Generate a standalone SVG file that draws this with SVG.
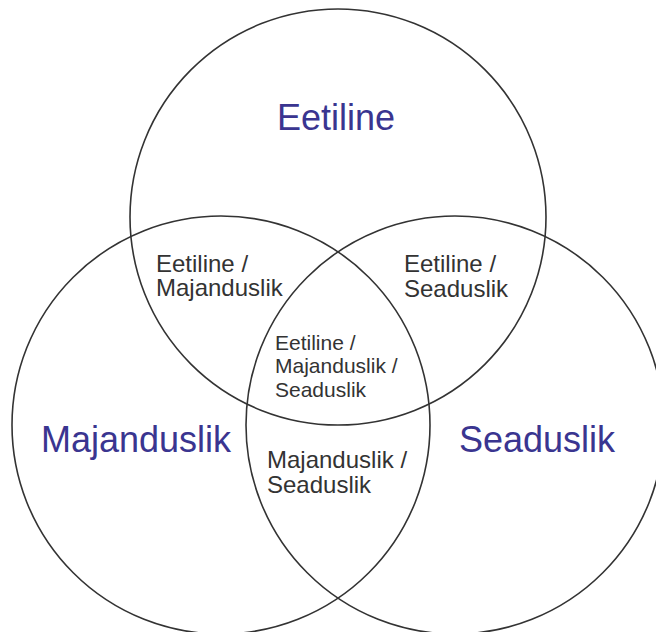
<svg xmlns="http://www.w3.org/2000/svg" width="656" height="632" viewBox="0 0 656 632">
<style>
.c{fill:none;stroke:#333;stroke-width:1.6}
.big{font-family:"Liberation Sans",Arial,sans-serif;font-size:36px;fill:#3a3590}
.sm{font-family:"Liberation Sans",Arial,sans-serif;font-size:24px;fill:#333}
.md{font-family:"Liberation Sans",Arial,sans-serif;font-size:21px;fill:#333}
</style>
<rect width="656" height="632" fill="#fff"/>
<g id="connectors"/>
<g id="eetiline"><circle class="c" cx="338" cy="217" r="208"/><text class="big" x="277" y="130">Eetiline</text></g>
<g id="majanduslik"><circle class="c" cx="221" cy="425" r="209"/><text class="big" x="41" y="452">Majanduslik</text></g>
<g id="seaduslik"><circle class="c" cx="455" cy="425" r="209"/><text class="big" x="459" y="452">Seaduslik</text></g>
<g id="eet-maj"><text class="sm" x="156" y="272">Eetiline /</text><text class="sm" x="156" y="296">Majanduslik</text></g>
<g id="eet-sea"><text class="sm" x="404" y="272">Eetiline /</text><text class="sm" x="404" y="297">Seaduslik</text></g>
<g id="all"><text class="md" x="275" y="350">Eetiline /</text><text class="md" x="275" y="373">Majanduslik /</text><text class="md" x="275" y="397">Seaduslik</text></g>
<g id="maj-sea"><text class="sm" x="267" y="468">Majanduslik /</text><text class="sm" x="267" y="493">Seaduslik</text></g>
</svg>
